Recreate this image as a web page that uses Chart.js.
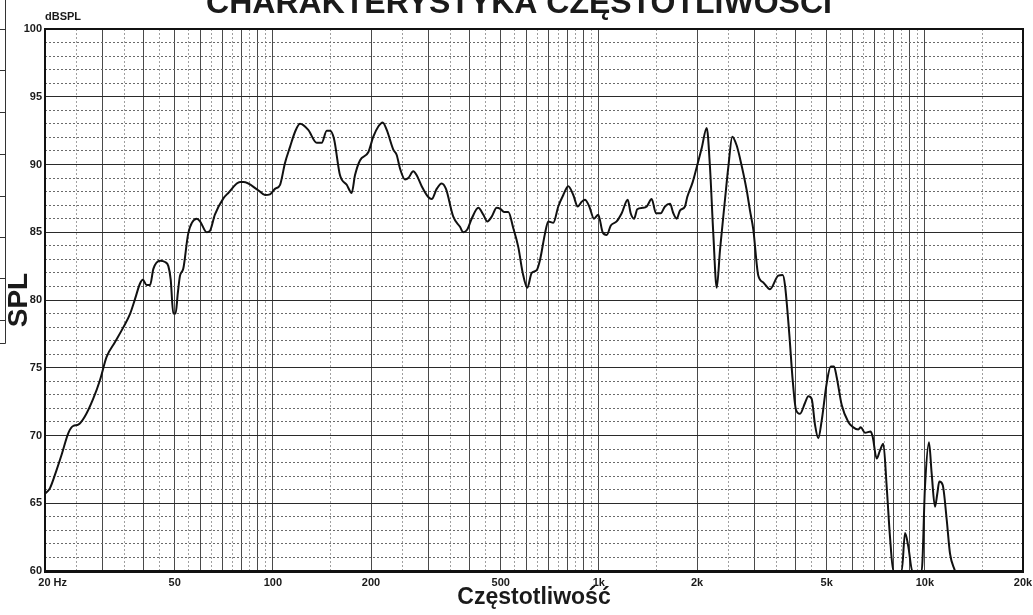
<!DOCTYPE html>
<html>
<head>
<meta charset="utf-8">
<script src="https://cdn.jsdelivr.net/npm/chart.js@4.4.1/dist/chart.umd.min.js"></script>
<style>
html,body{margin:0;padding:0;background:#fff;}
#wrap{width:1033px;height:615px;}
canvas{display:block;}
</style>
</head>
<body>
<div id="wrap"><canvas id="c" width="1033" height="615"></canvas></div>
<script>
// ---- data ----
const freqHz = [
  20, 20.7, 21.7, 22.5, 23.6, 24.4, 25.3, 26.5, 28.1, 29.5,
  30.9, 32.8, 34.8, 36.5, 37.8, 39.1, 39.9, 41.0, 42.0, 43.0,
  45.1, 46.7, 47.8, 48.6, 49.5, 50.3, 51.1, 51.9, 53.1, 55.0,
  58.4, 59.8, 62.7, 64.1, 66.4, 70.5, 73.0, 79.3, 81.2, 90.2,
  94.6, 98.0, 101.5, 105.2, 108.9, 112.9, 116.9, 121.1, 128.4, 136.3,
  141.2, 146.3, 149.7, 154.0, 160.7, 168.5, 174.5, 178.6, 185.0, 196.2,
  203.3, 210.6, 217.2, 223.5, 234.1, 239.8, 245.5, 254.3, 260.3, 269.6,
  276.2, 286.1, 299.7, 307.0, 318.1, 329.5, 339.6, 357.6, 375.0, 383.8,
  394.8, 407.3, 426.8, 442.1, 454.8, 469.1, 486.0, 499.9, 511.7, 527.5,
  546.4, 566.1, 584.0, 603.2, 622.3, 644.6, 659.8, 683.5, 699.7, 724.8,
  750.8, 777.8, 805.8, 834.7, 861.0, 885.7, 906.6, 934.6, 966.1, 995.9,
  1027, 1057, 1088, 1134, 1175, 1226, 1252, 1282, 1312, 1363,
  1402, 1452, 1497, 1548, 1595, 1653, 1692, 1733, 1773, 1837,
  1867, 1940, 1996, 2067, 2142, 2192, 2244, 2299, 2353, 2437,
  2495, 2566, 2647, 2710, 2841, 2908, 2977, 3083, 3194, 3349,
  3551, 3663, 3723, 3838, 3931, 4024, 4139, 4288, 4389, 4496,
  4602, 4710, 4825, 4998, 5142, 5264, 5365, 5558, 5822, 6032,
  6250, 6356, 6552, 6821, 6918, 7116, 7284, 7456, 7638, 7818,
  8004, 8492, 8693, 8897, 9152, 9777, 10008, 10294, 10492, 10740,
  10917, 11073, 11342, 11667, 11941, 12370
];
const splDb = [
  65.7, 66.1, 67.45, 68.6, 70.2, 70.7, 70.8, 71.4, 72.7, 74.1,
  75.8, 76.9, 78.0, 79.0, 80.1, 81.2, 81.5, 81.1, 81.1, 82.3,
  82.9, 82.8, 82.5, 81.5, 79.0, 79.0, 80.5, 81.8, 82.3, 84.9,
  86.0, 85.8, 85.0, 85.1, 86.3, 87.5, 87.9, 88.7, 88.7, 88.1,
  87.75, 87.8, 88.2, 88.5, 90.1, 91.3, 92.4, 93.0, 92.55, 91.6,
  91.6, 92.5, 92.5, 91.9, 89.2, 88.5, 87.9, 89.2, 90.3, 90.9,
  92.05, 92.8, 93.1, 92.55, 91.1, 90.7, 89.7, 88.9, 89.0, 89.5,
  89.2, 88.4, 87.6, 87.45, 88.2, 88.6, 88.2, 86.15, 85.4, 85.0,
  85.2, 86.0, 86.8, 86.3, 85.8, 86.15, 86.8, 86.7, 86.5, 86.5,
  85.3, 83.9, 82.0, 80.9, 82.0, 82.2, 82.95, 84.9, 85.8, 85.7,
  86.9, 87.75, 88.4, 87.75, 86.9, 87.25, 87.4, 86.9, 86.0, 86.3,
  85.0, 84.8, 85.5, 85.8, 86.4, 87.4, 86.4, 86.0, 86.7, 86.8,
  86.9, 87.45, 86.4, 86.4, 86.9, 87.1, 86.4, 86.0, 86.6, 86.9,
  87.6, 88.7, 89.8, 91.2, 92.7, 89.8, 84.9, 80.9, 83.7, 87.4,
  89.8, 92.05, 91.4, 90.45, 88.1, 86.6, 85.2, 81.8, 81.3, 80.8,
  81.8, 81.85, 81.1, 77.5, 74.1, 71.9, 71.6, 72.4, 72.9, 72.7,
  70.8, 69.8, 71.1, 73.85, 75.1, 75.1, 74.3, 72.25, 71.0, 70.6,
  70.45, 70.6, 70.2, 70.3, 69.9, 68.3, 68.9, 69.4, 66.2, 62.5,
  60, 60, 62.8, 61.8, 60, 60, 66.2, 69.5, 67.2, 64.75,
  65.7, 66.6, 66.35, 63.8, 61.3, 60
];

// ---- axes / tick definitions ----
const xMajorTicks = [20,30,40,50,60,70,80,90,100,200,300,400,500,600,700,800,900,
  1000,2000,3000,4000,5000,6000,7000,8000,9000,10000,20000];
const xMinorTicks = [25,35,45,55,65,75,85,95,150,250,350,450,550,650,750,850,950,
  1500,2500,3500,4500,5500,6500,7500,8500,9500,15000];
const xLabelValues = [20,50,100,200,500,1000,2000,5000,10000,20000];
const xLabelTexts = ['     20 Hz','50','100','200','500','1k','2k','5k','10k','20k'];
const yMin = 60, yMax = 100, yMajorStep = 5, yMinorStep = 1;
const titleText = 'CHARAKTERYSTYKA CZĘSTOTLIWOŚCI';
const xTitleText = 'Częstotliwość';
const yTitleText = 'SPL';
const yUnitText = 'dBSPL';

const FONT = "'Liberation Sans', Arial, Helvetica, sans-serif";
const INK = '#1a1a1a';
Chart.defaults.font.family = FONT;

const decor = {
  id: 'decor',
  afterDraw(chart) {
    const ctx = chart.ctx;
    const ca = chart.chartArea;
    ctx.save();
    // frame
    ctx.strokeStyle = '#111';
    ctx.lineWidth = 2;
    ctx.strokeRect(ca.left, ca.top, ca.right - ca.left, ca.bottom - ca.top);
    ctx.fillStyle = '#111';
    ctx.fillRect(ca.left - 1, ca.bottom - 1, ca.right - ca.left + 2, 3);
    // main title (cut at the top as in the reference)
    ctx.fillStyle = INK;
    ctx.font = 'bold 32px ' + FONT;
    ctx.textAlign = 'center';
    ctx.textBaseline = 'alphabetic';
    ctx.fillText(titleText, 519, 12.5);
    // unit label
    ctx.font = 'bold 11px ' + FONT;
    ctx.textAlign = 'left';
    ctx.fillText(yUnitText, ca.left, 20);
    // partial frame at the far left edge
    ctx.strokeStyle = '#333';
    ctx.lineWidth = 1;
    ctx.beginPath();
    ctx.moveTo(5.5, 0); ctx.lineTo(5.5, 343.5); ctx.lineTo(0, 343.5);
    [29,70,112,154,196,237,278,320].forEach(yy => { ctx.moveTo(0, yy + 0.5); ctx.lineTo(5.5, yy + 0.5); });
    ctx.stroke();
    ctx.restore();
  }
};

new Chart(document.getElementById('c'), {
  type: 'line',
  data: {
    datasets: [{
      data: freqHz.map((f, i) => ({x: f, y: splDb[i]})),
      borderColor: '#111',
      borderWidth: 2,
      pointRadius: 0,
      fill: false,
      cubicInterpolationMode: 'monotone',
      xAxisID: 'x',
      yAxisID: 'y'
    }]
  },
  options: {
    responsive: false,
    animation: false,
    devicePixelRatio: 1,
    layout: {padding: {top: 29, right: 10, left: 0, bottom: 0}},
    plugins: {legend: {display: false}, tooltip: {enabled: false}},
    scales: {
      xMinor: {
        type: 'logarithmic', position: 'bottom', min: 20, max: 20000,
        afterBuildTicks: s => { s.ticks = xMinorTicks.map(v => ({value: v})); },
        afterFit: s => { s.height = 0; s.paddingLeft = 0; s.paddingRight = 0; },
        ticks: {display: false, autoSkip: false},
        grid: {color: '#a0a0a0', lineWidth: 1, drawTicks: false},
        border: {display: false, dash: [2, 2]}
      },
      x: {
        type: 'logarithmic', position: 'bottom', min: 20, max: 20000,
        afterBuildTicks: s => { s.ticks = xMajorTicks.map(v => ({value: v})); },
        afterFit: s => { s.height = 44; s.paddingLeft = 0; s.paddingRight = 0; },
        ticks: {
          autoSkip: false, maxRotation: 0, minRotation: 0, padding: 5,
          color: INK, font: {size: 11, weight: 'bold'},
          callback: v => { const i = xLabelValues.indexOf(v); return i >= 0 ? xLabelTexts[i] : ''; }
        },
        grid: {color: '#4a4a4a', lineWidth: 1, drawTicks: false},
        border: {display: false},
        title: {display: true, text: xTitleText, color: INK,
          font: {size: 23, weight: 'bold'}, padding: {top: 0, bottom: 4}}
      },
      yMinor: {
        type: 'linear', position: 'left', min: yMin, max: yMax,
        afterBuildTicks: s => { s.ticks = s.ticks.filter(t => t.value % yMajorStep !== 0); },
        afterFit: s => { s.width = 0; },
        ticks: {display: false, stepSize: yMinorStep},
        grid: {color: '#6a6a6a', lineWidth: 1, drawTicks: false},
        border: {display: false, dash: [2, 2]}
      },
      y: {
        type: 'linear', position: 'left', min: yMin, max: yMax,
        afterFit: s => { s.width = 45; },
        ticks: {stepSize: yMajorStep, padding: 3, color: INK, font: {size: 11, weight: 'bold'}},
        grid: {color: '#2a2a2a', lineWidth: 1, drawTicks: false},
        border: {display: false},
        title: {display: true, text: yTitleText, color: INK,
          font: {size: 28, weight: 'bold'}, padding: {top: 2, bottom: 0}}
      }
    }
  },
  plugins: [decor]
});
</script>
</body>
</html>
